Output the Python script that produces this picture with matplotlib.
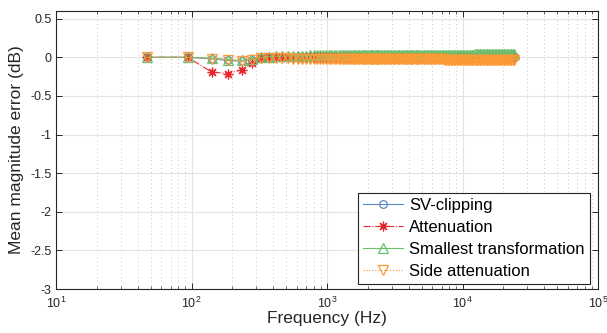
import numpy as np
import matplotlib
matplotlib.use('Agg')
import matplotlib.pyplot as plt
from matplotlib.ticker import LogLocator, NullFormatter, FixedLocator, FixedFormatter

plt.rcParams['font.family'] = ['Liberation Sans', 'DejaVu Sans']
plt.rcParams['mathtext.fontset'] = 'custom'
plt.rcParams['mathtext.rm'] = 'Liberation Sans'

# FFT bin width (48 kHz / 1024) and the plotted bin indices
bin_width_hz = 46.875
bins = [1, 2, 3, 4, 5, 6, 7, 8, 9, 10, 11, 12, 13, 14, 15, 16, 17, 18, 19, 20,
        21, 22, 23, 24, 25, 26, 27, 28, 29, 30, 31, 32, 33, 34, 35, 36, 37, 38, 39, 40,
        41, 42, 43, 44, 45, 46, 47, 48, 49, 50, 51, 52, 53, 54,
        56, 57, 59, 60, 62, 63, 65, 67, 69, 71, 73, 75, 77, 79, 81, 83, 85, 87, 89, 91,
        94, 96, 99, 101, 104, 107, 110, 113, 116, 119, 122, 125, 128, 131, 134, 138, 142, 146, 150, 154,
        158, 162, 166, 170, 174, 179, 184, 189, 194, 199, 204, 209, 214, 220, 226, 232, 238, 244, 250, 257,
        264, 271, 278, 285, 292, 300, 308, 316, 324, 332, 341, 350, 359, 368, 378, 388, 398, 408, 419, 430,
        441, 452, 464, 476, 488, 500, 512]

sv_clipping = [0.0, 0.0, -0.02, -0.04, -0.05, -0.03, -0.01, 0.0, 0.0, 0.0, 0.0, 0.0, 0.0, 0.0, 0.0, 0.0, 0.0, 0.0, 0.0, 0.0,
               0.0, 0.0, 0.0, 0.0, 0.0, 0.0, 0.0, 0.0, 0.0, 0.0, 0.0, 0.0, 0.0, 0.0, 0.0, 0.0, 0.0, 0.0, 0.0, 0.0,
               0.0, 0.0, 0.0, 0.0, 0.0, 0.0, 0.0, 0.0, 0.0, 0.0, 0.0, 0.0, 0.0, 0.0,
               0.0, 0.0, 0.0, 0.0, 0.0, 0.0, 0.0, 0.0, 0.0, 0.0, 0.0, 0.0, 0.0, 0.0, 0.0, 0.0, 0.0, 0.0, 0.0, 0.0,
               0.0, 0.0, 0.0, 0.0, 0.0, 0.0, 0.0, 0.0, 0.0, 0.0, 0.0, 0.0, 0.0, 0.0, 0.0, 0.0, 0.0, 0.0, 0.0, 0.0,
               0.0, 0.0, 0.0, 0.0, 0.0, 0.0, 0.0, 0.0, 0.0, 0.0, 0.0, 0.0, 0.0, 0.0, 0.0, 0.0, 0.0, 0.0, 0.0, 0.0,
               0.0, 0.0, 0.0, 0.0, 0.0, 0.0, 0.0, 0.0, 0.0, 0.0, 0.0, 0.0, 0.0, 0.0, 0.0, 0.0, 0.0, 0.0, 0.0, 0.0,
               0.0, 0.0, 0.0, 0.0, 0.0, 0.0, 0.0]

attenuation = [0.0, 0.0, -0.19, -0.21, -0.16, -0.07, -0.01, 0.0, 0.0, 0.0, 0.0, 0.0, 0.0, 0.0, 0.0, 0.0, 0.0, 0.0, 0.0, 0.0,
               0.0, 0.0, 0.0, 0.0, 0.0, 0.0, 0.0, 0.0, 0.0, 0.0, 0.0, 0.0, 0.0, 0.0, 0.0, 0.0, 0.0, 0.0, 0.0, 0.0,
               0.0, 0.0, 0.0, 0.0, 0.0, 0.0, 0.0, 0.0, 0.0, 0.0, 0.0, 0.0, 0.0, 0.0,
               0.0, 0.0, 0.0, 0.0, 0.0, 0.0, 0.0, 0.0, 0.0, 0.0, 0.0, 0.0, 0.0, 0.0, 0.0, 0.0, 0.0, 0.0, 0.0, 0.0,
               0.0, 0.0, 0.0, 0.0, 0.0, 0.0, 0.0, 0.0, 0.0, 0.0, 0.0, 0.0, 0.0, 0.0, 0.0, 0.0, 0.0, 0.0, 0.0, 0.0,
               0.0, 0.0, 0.0, 0.0, 0.0, 0.0, 0.0, 0.0, 0.0, 0.0, 0.0, 0.0, 0.0, 0.0, 0.0, 0.0, 0.0, 0.0, 0.0, 0.0,
               0.0, 0.0, 0.0, 0.0, 0.0, 0.0, 0.0, 0.0, 0.0, 0.0, 0.0, 0.0, 0.0, 0.0, 0.0, 0.0, 0.0, 0.0, 0.0, 0.0,
               0.0, 0.0, 0.0, 0.0, 0.0, 0.0, 0.0]

smallest_transformation = [0.0, 0.0, -0.01, -0.03, -0.04, -0.02, 0.0, 0.01, 0.012, 0.015, 0.017, 0.02, 0.02, 0.022, 0.022, 0.024, 0.024, 0.025, 0.025, 0.026,
                           0.026, 0.027, 0.027, 0.027, 0.028, 0.028, 0.028, 0.028, 0.029, 0.029, 0.029, 0.029, 0.03, 0.03, 0.03, 0.03, 0.03, 0.03, 0.03, 0.03,
                           0.03, 0.03, 0.03, 0.03, 0.03, 0.03, 0.03, 0.03, 0.03, 0.03, 0.03, 0.03, 0.03, 0.03,
                           0.031, 0.031, 0.031, 0.031, 0.031, 0.031, 0.031, 0.031, 0.031, 0.031, 0.032, 0.032, 0.032, 0.032, 0.032, 0.032, 0.032, 0.032, 0.032, 0.032,
                           0.033, 0.033, 0.033, 0.033, 0.033, 0.033, 0.033, 0.033, 0.033, 0.033, 0.034, 0.034, 0.034, 0.034, 0.034, 0.034, 0.034, 0.034, 0.034, 0.034,
                           0.035, 0.035, 0.035, 0.035, 0.035, 0.035, 0.035, 0.035, 0.035, 0.035, 0.036, 0.036, 0.036, 0.036, 0.036, 0.036, 0.036, 0.036, 0.036, 0.036,
                           0.037, 0.037, 0.037, 0.037, 0.037, 0.037, 0.037, 0.038, 0.038, 0.038, 0.038, 0.038, 0.038, 0.039, 0.039, 0.039, 0.039, 0.039, 0.04, 0.04,
                           0.04, 0.04, 0.04, 0.04, 0.04, 0.04, 0.04]

side_attenuation = [0.0, 0.0, -0.02, -0.04, -0.05, -0.03, -0.01, -0.01, -0.012, -0.015, -0.015, -0.018, -0.018, -0.02, -0.02, -0.02, -0.022, -0.022, -0.022, -0.024,
                    -0.024, -0.024, -0.025, -0.025, -0.025, -0.025, -0.025, -0.025, -0.025, -0.025, -0.025, -0.025, -0.025, -0.025, -0.025, -0.025, -0.025, -0.025, -0.025, -0.025,
                    -0.025, -0.025, -0.025, -0.025, -0.025, -0.025, -0.025, -0.025, -0.025, -0.025, -0.025, -0.025, -0.025, -0.025,
                    -0.026, -0.026, -0.026, -0.026, -0.026, -0.026, -0.026, -0.026, -0.026, -0.026, -0.027, -0.027, -0.027, -0.027, -0.027, -0.027, -0.027, -0.027, -0.027, -0.027,
                    -0.028, -0.028, -0.028, -0.028, -0.028, -0.028, -0.028, -0.028, -0.028, -0.028, -0.028, -0.028, -0.028, -0.028, -0.028, -0.028, -0.028, -0.028, -0.028, -0.028,
                    -0.029, -0.029, -0.029, -0.029, -0.029, -0.029, -0.029, -0.029, -0.029, -0.029, -0.029, -0.029, -0.029, -0.029, -0.029, -0.029, -0.029, -0.029, -0.029, -0.029,
                    -0.03, -0.03, -0.03, -0.03, -0.03, -0.03, -0.03, -0.03, -0.03, -0.03, -0.03, -0.03, -0.03, -0.03, -0.03, -0.03, -0.03, -0.03, -0.03, -0.03,
                    -0.03, -0.03, -0.03, -0.03, -0.03, -0.03, -0.03]

series_labels = ['SV-clipping', 'Attenuation', 'Smallest transformation', 'Side attenuation']
y_ticks = [-3, -2.5, -2, -1.5, -1, -0.5, 0, 0.5]
y_tick_labels = ['-3', '-2.5', '-2', '-1.5', '-1', '-0.5', '0', '0.5']
x_ticks = [10, 100, 1000, 10000, 100000]
x_tick_labels = ['$10^1$', '$10^2$', '$10^3$', '$10^4$', '$10^5$']

freqs = np.array(bins) * bin_width_hz

fig = plt.figure(figsize=(6.07, 3.33), dpi=100)
ax = fig.add_axes([56/607, 1 - 289/333, (598-56)/607, (289-11)/333])

styles = [
    dict(color='#5a8cc4', ls='-', marker='o', ms=5.5),
    dict(color='#e8282e', ls='-.', marker=(8, 2, 0), ms=7),
    dict(color='#6dbf6d', ls='-', marker='^', ms=7),
    dict(color='#fd9a35', ls=':', marker='v', ms=7),
]
data = [sv_clipping, attenuation, smallest_transformation, side_attenuation]
for vals, lab, st in zip(data, series_labels, styles):
    ax.plot(freqs, vals, color=st['color'], ls=st['ls'], lw=0.8, marker=st['marker'],
            ms=st['ms'], mfc='none', mec=st['color'], mew=0.9, label=lab)

ax.set_xscale('log')
ax.set_xlim(10, 1e5)
ax.set_ylim(-3, 0.6)
ax.xaxis.set_major_locator(FixedLocator(x_ticks))
ax.xaxis.set_major_formatter(FixedFormatter(x_tick_labels))
ax.xaxis.set_minor_locator(LogLocator(base=10, subs=np.arange(2, 10), numticks=50))
ax.xaxis.set_minor_formatter(NullFormatter())
ax.yaxis.set_major_locator(FixedLocator(y_ticks))
ax.yaxis.set_major_formatter(FixedFormatter(y_tick_labels))

ax.grid(True, which='major', color='#e3e3e3', lw=0.8, ls='-')
ax.grid(True, which='minor', axis='x', color='#c8c8c8', lw=0.7, ls=(0, (1, 3)))
ax.set_axisbelow(True)

for s in ax.spines.values():
    s.set_color('#262626')
    s.set_linewidth(0.8)
ax.tick_params(which='both', direction='in', top=True, right=True, colors='#262626', labelsize=9)
ax.tick_params(which='major', length=4, width=0.7)
ax.tick_params(which='minor', length=2, width=0.5)
ax.tick_params(axis='x', which='major', pad=5)
ax.tick_params(axis='y', which='major', pad=3)

ax.set_xlabel('Frequency (Hz)', fontsize=12.5, color='#262626', labelpad=0)
ax.set_ylabel('Mean magnitude error (dB)', fontsize=12.5, color='#262626', labelpad=5)

leg = ax.legend(loc='lower right', bbox_to_anchor=(0.985, 0.018), fontsize=12,
                frameon=True, fancybox=False, edgecolor='#262626', framealpha=1,
                handlelength=2.4, handletextpad=0.4, borderpad=0.3, labelspacing=0.42,
                borderaxespad=0)
leg.get_frame().set_linewidth(0.8)

fig.savefig('out.png', dpi=100)
